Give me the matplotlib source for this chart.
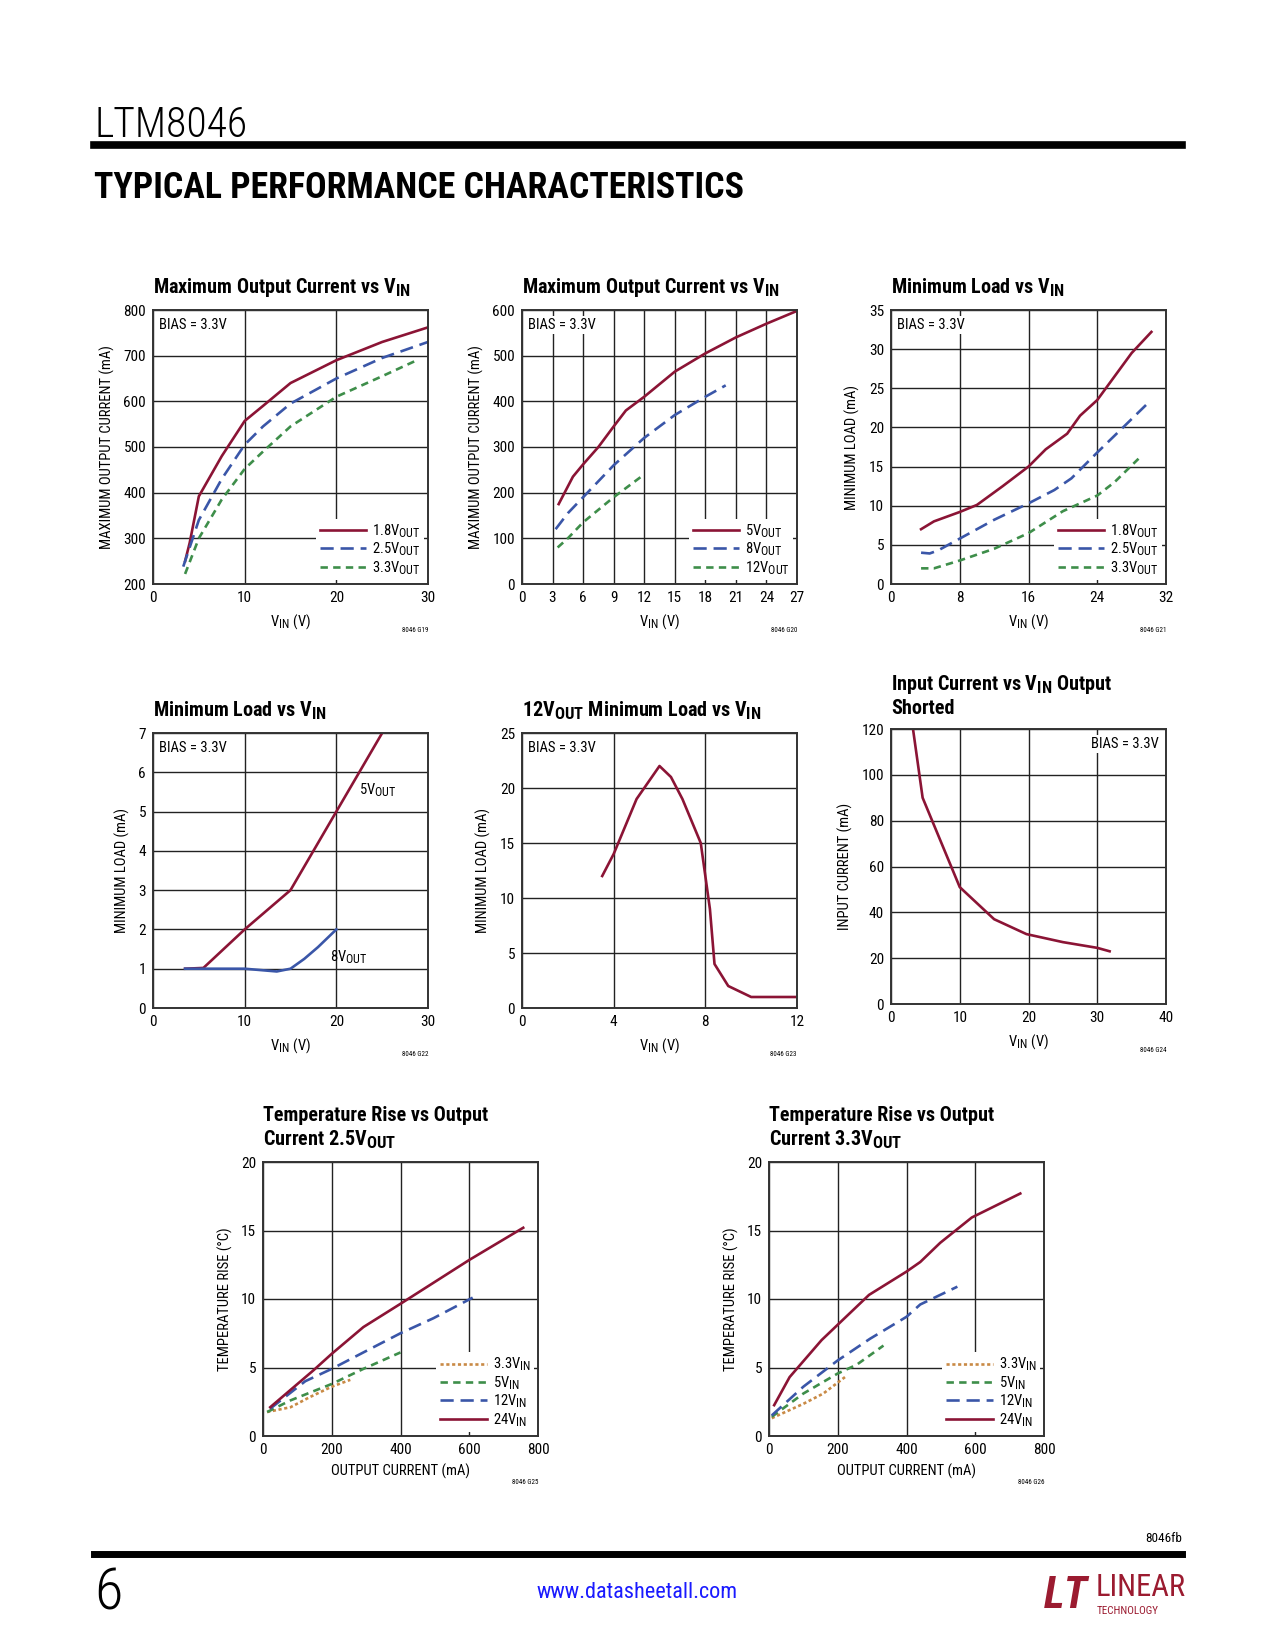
import numpy as np
import matplotlib
matplotlib.use('Agg')
import matplotlib.pyplot as plt
from matplotlib import font_manager
import matplotlib._mathtext as mt

# subscripts in the datasheet are only a little smaller than the text
mt.SHRINK_FACTOR = 0.82

# pick a narrow font if one is installed
names = {f.name for f in font_manager.fontManager.ttflist}
narrow = next((n for n in ['Roboto Condensed', 'Liberation Sans Narrow', 'Open Sans Condensed']
               if n in names), 'Liberation Sans')
heavy = narrow
light = narrow

plt.rcParams['font.family'] = [narrow, 'DejaVu Sans']
plt.rcParams['mathtext.fontset'] = 'custom'
plt.rcParams['mathtext.rm'] = narrow

RED = '#8B1435'
BLUE = '#3A56A8'
GREEN = '#3E8E4A'
ORANGE = '#C98A45'

# ---- data ----
# G19: max output current vs VIN (1.8/2.5/3.3 VOUT)
g19_18_x = [3.5, 4, 5, 7.5, 10, 12, 15, 20, 25, 30]
g19_18_y = [250, 290, 392, 480, 557, 590, 640, 690, 730, 762]
g19_25_x = [3.3, 5, 7.5, 10, 12, 15, 20, 25, 30]
g19_25_y = [238, 340, 430, 505, 545, 595, 650, 695, 730]
g19_33_x = [3.5, 5, 7.5, 10, 12, 15, 20, 25, 29]
g19_33_y = [222, 300, 385, 452, 490, 545, 610, 655, 692]

# G20: max output current vs VIN (5/8/12 VOUT)
g20_5_x = [3.6, 5, 6, 7.5, 9, 10.2, 12, 15, 18, 21, 24, 27]
g20_5_y = [175, 235, 262, 300, 345, 380, 410, 465, 505, 540, 570, 598]
g20_8_x = [3.3, 4.5, 6, 9, 12, 15, 18, 20]
g20_8_y = [120, 155, 190, 260, 320, 370, 410, 435]
g20_12_x = [3.5, 4.5, 6, 9, 12]
g20_12_y = [80, 100, 135, 190, 240]

# G21: minimum load vs VIN (1.8/2.5/3.3 VOUT)
g21_18_x = [3.5, 5, 8, 10, 13, 16, 18, 20.5, 22, 24, 26, 28, 30.3]
g21_18_y = [7, 8, 9.2, 10.1, 12.5, 15, 17.2, 19.2, 21.5, 23.5, 26.5, 29.5, 32.2]
g21_25_x = [3.5, 4.5, 5.5, 8, 12, 16, 19, 21, 24, 27, 29.8]
g21_25_y = [4, 3.9, 4.3, 5.8, 8.2, 10.3, 12, 13.5, 16.8, 20, 23]
g21_33_x = [3.5, 5, 8, 12, 16, 20, 24, 26, 28.8]
g21_33_y = [2, 2, 3, 4.5, 6.5, 9.3, 11.3, 13, 16]

# G22: minimum load vs VIN (5/8 VOUT)
g22_5_x = [3.5, 5.5, 10, 15, 20, 25]
g22_5_y = [1, 1.02, 2, 3, 5, 7]
g22_8_x = [3.5, 5, 10, 12, 13.5, 15, 16.5, 18, 20]
g22_8_y = [1, 1, 1, 0.96, 0.93, 1, 1.25, 1.55, 2]

# G23: 12VOUT minimum load vs VIN
g23_x = [3.5, 4, 5, 6, 6.5, 7, 7.5, 7.8, 8, 8.2, 8.4, 9, 10, 12]
g23_y = [12, 14, 19, 22, 21, 19, 16.5, 15, 12, 9, 4, 2, 1, 1]

# G24: input current vs VIN, output shorted
g24_x = [3.2, 4.6, 10, 15, 19.7, 25, 30, 31.8]
g24_y = [120, 90, 51, 37, 30.5, 27, 24.5, 23]

# G25: temperature rise, 2.5VOUT
g25_33_x = [12, 80, 137, 200, 254]
g25_33_y = [1.75, 2.1, 2.85, 3.6, 4.1]
g25_5_x = [12, 80, 200, 292, 400]
g25_5_y = [1.75, 2.6, 3.8, 4.9, 6.1]
g25_12_x = [21, 123, 200, 292, 400, 496, 610]
g25_12_y = [2.0, 4.0, 4.9, 6.1, 7.5, 8.6, 10.1]
g25_24_x = [21, 147, 200, 292, 400, 600, 757]
g25_24_y = [2.1, 4.8, 6.0, 7.95, 9.65, 12.85, 15.2]

# G26: temperature rise, 3.3VOUT
g26_33_x = [8, 100, 158, 221]
g26_33_y = [1.3, 2.35, 3.1, 4.3]
g26_5_x = [8, 100, 199, 255, 333]
g26_5_y = [1.4, 3.1, 4.55, 5.2, 6.6]
g26_12_x = [8, 100, 199, 294, 400, 440, 548]
g26_12_y = [1.5, 3.6, 5.5, 7.1, 8.7, 9.6, 10.9]
g26_24_x = [15, 60, 153, 199, 291, 400, 440, 498, 590, 731]
g26_24_y = [2.25, 4.3, 7.0, 8.1, 10.3, 12.0, 12.7, 14.1, 15.95, 17.7]

W, H = 1275, 1650
fig = plt.figure(figsize=(W / 100, H / 100), dpi=100)


def px_axes(left, top, right, bottom):
    return fig.add_axes([left / W, 1 - bottom / H, (right - left) / W, (bottom - top) / H])


def setup(ax, xlim, xticks, ylim, yticks, ylabel, xlabel, title, code):
    ax.set_xlim(*xlim)
    ax.set_ylim(*ylim)
    ax.set_xticks(xticks)
    ax.set_yticks(yticks)
    ax.tick_params(length=0, labelsize=11, pad=5)
    ax.grid(True, color='#222222', lw=1.0)
    ax.set_axisbelow(True)
    for s in ax.spines.values():
        s.set_linewidth(1.4)
        s.set_color('#333333')
    ax.set_ylabel(ylabel, fontsize=10.5, labelpad=6)
    ax.set_xlabel(xlabel, fontsize=10.5, labelpad=5)
    ax.text(0, 1.04, title, transform=ax.transAxes, ha='left', va='bottom',
            fontsize=14.5, fontweight='bold', linespacing=1.2)
    ax.text(1.0, -0.17, code, transform=ax.transAxes, ha='right', va='center', fontsize=5)


def bias(ax, right=False):
    kw = dict(transform=ax.transAxes, va='top', fontsize=10.5, zorder=3,
              bbox=dict(facecolor='white', edgecolor='none', pad=1.5))
    if right:
        ax.text(0.975, 0.97, 'BIAS = 3.3V', ha='right', **kw)
    else:
        ax.text(0.022, 0.97, 'BIAS = 3.3V', ha='left', **kw)


def leg(ax):
    lg = ax.legend(loc='lower right', fontsize=10.5, handlelength=3.2, handletextpad=0.4,
                   labelspacing=0.05, borderaxespad=0.25, borderpad=0.25, frameon=True,
                   fancybox=False)
    lg.get_frame().set_facecolor('white')
    lg.get_frame().set_edgecolor('none')
    lg.get_frame().set_alpha(1)
    lg.set_zorder(4)


LW = 1.9
solid = dict(color=RED, lw=LW)
longd = dict(color=BLUE, lw=LW, dashes=(5, 2.6))
shortd = dict(color=GREEN, lw=LW, dashes=(2.8, 2))
dots = dict(color=ORANGE, lw=LW, dashes=(1.2, 1.0))

vin = r'V$_\mathregular{IN}$ (V)'

# ---- row 1 ----
ax = px_axes(153, 310, 428, 584)
setup(ax, (0, 30), [0, 10, 20, 30], (200, 800), range(200, 801, 100),
      'MAXIMUM OUTPUT CURRENT (mA)', vin,
      r'Maximum Output Current vs V$_\mathregular{IN}$', '8046 G19')
ax.plot(g19_18_x, g19_18_y, label=r'1.8V$_\mathregular{OUT}$', **solid)
ax.plot(g19_25_x, g19_25_y, label=r'2.5V$_\mathregular{OUT}$', **longd)
ax.plot(g19_33_x, g19_33_y, label=r'3.3V$_\mathregular{OUT}$', **shortd)
bias(ax)
leg(ax)

ax = px_axes(522, 310, 797, 584)
setup(ax, (0, 27), range(0, 28, 3), (0, 600), range(0, 601, 100),
      'MAXIMUM OUTPUT CURRENT (mA)', vin,
      r'Maximum Output Current vs V$_\mathregular{IN}$', '8046 G20')
ax.plot(g20_5_x, g20_5_y, label=r'5V$_\mathregular{OUT}$', **solid)
ax.plot(g20_8_x, g20_8_y, label=r'8V$_\mathregular{OUT}$', **longd)
ax.plot(g20_12_x, g20_12_y, label=r'12V$_\mathregular{OUT}$', **shortd)
bias(ax)
leg(ax)

ax = px_axes(891, 310, 1166, 584)
setup(ax, (0, 32), [0, 8, 16, 24, 32], (0, 35), range(0, 36, 5),
      'MINIMUM LOAD (mA)', vin,
      r'Minimum Load vs V$_\mathregular{IN}$', '8046 G21')
ax.plot(g21_18_x, g21_18_y, label=r'1.8V$_\mathregular{OUT}$', **solid)
ax.plot(g21_25_x, g21_25_y, label=r'2.5V$_\mathregular{OUT}$', **longd)
ax.plot(g21_33_x, g21_33_y, label=r'3.3V$_\mathregular{OUT}$', **shortd)
bias(ax)
leg(ax)

# ---- row 2 ----
ax = px_axes(153, 733, 428, 1008)
setup(ax, (0, 30), [0, 10, 20, 30], (0, 7), range(0, 8),
      'MINIMUM LOAD (mA)', vin,
      r'Minimum Load vs V$_\mathregular{IN}$', '8046 G22')
ax.plot(g22_5_x, g22_5_y, **solid)
ax.plot(g22_8_x, g22_8_y, color=BLUE, lw=LW)
ax.text(22.5, 5.55, r'5V$_\mathregular{OUT}$', fontsize=10.5, ha='left', va='center')
ax.text(19.3, 1.3, r'8V$_\mathregular{OUT}$', fontsize=10.5, ha='left', va='center')
bias(ax)

ax = px_axes(522, 733, 797, 1008)
setup(ax, (0, 12), [0, 4, 8, 12], (0, 25), range(0, 26, 5),
      'MINIMUM LOAD (mA)', vin,
      r'12V$_\mathregular{OUT}$ Minimum Load vs V$_\mathregular{IN}$', '8046 G23')
ax.plot(g23_x, g23_y, **solid)
bias(ax)

ax = px_axes(891, 729, 1166, 1004)
setup(ax, (0, 40), range(0, 41, 10), (0, 120), range(0, 121, 20),
      'INPUT CURRENT (mA)', vin,
      'Input Current vs V$_\\mathregular{IN}$ Output\nShorted', '8046 G24')
ax.plot(g24_x, g24_y, **solid)
bias(ax, right=True)

# ---- row 3 ----
for left, code, sub, series in [
        (263, '8046 G25', '2.5', [(g25_33_x, g25_33_y), (g25_5_x, g25_5_y),
                                   (g25_12_x, g25_12_y), (g25_24_x, g25_24_y)]),
        (769, '8046 G26', '3.3', [(g26_33_x, g26_33_y), (g26_5_x, g26_5_y),
                                   (g26_12_x, g26_12_y), (g26_24_x, g26_24_y)])]:
    ax = px_axes(left, 1162, left + 275, 1436)
    setup(ax, (0, 800), range(0, 801, 200), (0, 20), range(0, 21, 5),
          'TEMPERATURE RISE (°C)', 'OUTPUT CURRENT (mA)',
          'Temperature Rise vs Output\nCurrent ' + sub + r'V$_\mathregular{OUT}$', code)
    styles = [dots, shortd, longd, solid]
    labels = [r'3.3V$_\mathregular{IN}$', r'5V$_\mathregular{IN}$',
              r'12V$_\mathregular{IN}$', r'24V$_\mathregular{IN}$']
    for (x, y), st, lb in zip(series, styles, labels):
        ax.plot(x, y, label=lb, **st)
    leg(ax)

# ---- page furniture ----
fig.text(94 / W, 1 - 137 / H, 'LTM8046', fontsize=30, family=light, fontweight='light',
         ha='left', va='baseline', color='black')
fig.add_artist(plt.Line2D([94 / W, 1182 / W], [1 - 144.5 / H] * 2, color='black', lw=5.5))
t = fig.text(94 / W, 1 - 188 / H, 'TYPICAL PERFORMANCE CHARACTERISTICS', fontsize=24,
             family=heavy, fontweight='black', ha='left', va='center')
fig.canvas.draw()
wpx = t.get_window_extent().width
t.set_fontsize(24 * 651 / wpx)

fig.text(1182 / W, 1 - 1538 / H, '8046fb', fontsize=9.5, ha='right', va='center')
fig.add_artist(plt.Line2D([94 / W, 1182 / W], [1 - 1554 / H] * 2, color='black', lw=5))
fig.text(94 / W, 1 - 1594 / H, '6', fontsize=42, family=light, fontweight='light',
         ha='left', va='center')
fig.text(637 / W, 1 - 1592 / H, 'www.datasheetall.com', fontsize=16, color='#1a1aff',
         ha='center', va='center')
fig.text(1088 / W, 1 - 1596 / H, 'LT', fontsize=32, color='#9B1B30', fontweight='black',
         family=heavy, style='italic', ha='right', va='center')
fig.text(1096 / W, 1 - 1587 / H, 'LINEAR', fontsize=22, color='#9B1B30', ha='left',
         va='center')
fig.text(1097 / W, 1 - 1611 / H, 'TECHNOLOGY', fontsize=8, color='#9B1B30', ha='left',
         va='center')

fig.savefig('out.png', dpi=100)
